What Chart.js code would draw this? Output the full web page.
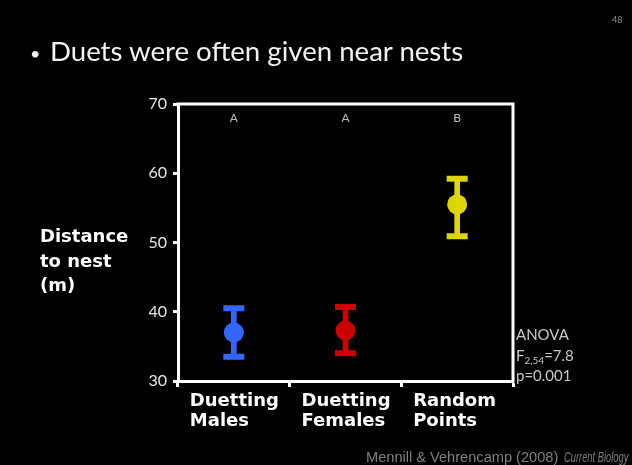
<!DOCTYPE html>
<html>
<head>
<meta charset="utf-8">
<script src="https://cdn.jsdelivr.net/npm/chart.js@4.4.1/dist/chart.umd.min.js"></script>
<style>
  html, body { margin: 0; padding: 0; background: #000; }
  #wrap { position: relative; width: 632px; height: 465px; overflow: hidden; background: #000; }
  #chart { position: absolute; left: 0; top: 0; }
  .txt { position: absolute; white-space: nowrap; }
  #bullet { left: 30px; top: 42px; font: 18px Lato, "Open Sans", sans-serif; color: #f2f2f2; }
  #title { left: 50px; top: 34px; font: 27.6px Lato, "Open Sans", sans-serif; color: #f2f2f2; }
  #ylab { left: 40px; top: 224px; font: bold 18px "DejaVu Sans", sans-serif; line-height: 24.5px; color: #fff; }
  #anova { left: 516px; top: 324px; font: 15px Lato, "Open Sans", sans-serif; line-height: 20.5px; color: #c8c8c8; }
  #anova sub { font-size: 10px; vertical-align: -3px; line-height: 0; }
  #cite { left: 366px; top: 449px; font: 14.6px "Liberation Sans Narrow", "Liberation Sans", sans-serif; color: #7f7f7f; }
  #cite i { display: inline-block; transform: scaleX(0.64); transform-origin: 0 50%; margin-left: 2px; }
  #page { left: 612px; top: 14px; font: 9px Lato, sans-serif; color: #8a8a8a; }
</style>
</head>
<body>
<div id="wrap">
  <canvas id="chart" width="632" height="465"></canvas>
  <div class="txt" id="bullet">•</div>
  <div class="txt" id="title">Duets were often given near nests</div>
  <div class="txt" id="ylab">Distance<br>to nest<br>(m)</div>
  <div class="txt" id="anova">ANOVA<br>F<sub>2,54</sub>=7.8<br>p=0.001</div>
  <div class="txt" id="cite">Mennill &amp; Vehrencamp (2008) <i>Current Biology</i></div>
  <div class="txt" id="page">48</div>
</div>
<script>
// Groups and their distance-to-nest summaries (mean with error-bar limits, metres)
const categories = [['Duetting', 'Males'], ['Duetting', 'Females'], ['Random', 'Points']];
const means = [37.0, 37.3, 55.5];
const upper = [40.5, 40.7, 59.2];
const lower = [33.5, 34.0, 50.9];
const groupLetters = ['A', 'A', 'B'];
const yTicks = [30, 40, 50, 60, 70];
const colors = ['#3366ff', '#cc0000', '#dcd500'];

// Draws the white frame on the top and right sides and the significance letters
const framePlugin = {
  id: 'frame',
  afterDraw(chart) {
    const { ctx, chartArea: a, scales } = chart;
    ctx.save();
    ctx.strokeStyle = '#ffffff';
    ctx.lineWidth = 3;
    ctx.beginPath();
    ctx.moveTo(a.left - 1.5, a.top);
    ctx.lineTo(a.right, a.top);
    ctx.lineTo(a.right, a.bottom + 1.5);
    ctx.stroke();
    ctx.fillStyle = '#bdbdbd';
    ctx.font = '12px Lato, "Open Sans", sans-serif';
    ctx.textAlign = 'center';
    ctx.textBaseline = 'middle';
    groupLetters.forEach((t, i) => {
      ctx.fillText(t, scales.x.getPixelForValue(i), a.top + 14);
    });
    ctx.restore();
  }
};

new Chart(document.getElementById('chart'), {
  data: {
    labels: categories,
    datasets: [
      {
        type: 'line', data: means, showLine: false,
        pointStyle: 'circle', pointRadius: 10, pointHoverRadius: 10,
        pointBackgroundColor: colors, pointBorderColor: colors, pointBorderWidth: 0
      },
      {
        type: 'line', data: upper, showLine: false,
        pointStyle: 'line', pointRadius: 10.5, pointHoverRadius: 10.5,
        pointBorderColor: colors, pointBorderWidth: 6
      },
      {
        type: 'line', data: lower, showLine: false,
        pointStyle: 'line', pointRadius: 10.5, pointHoverRadius: 10.5,
        pointBorderColor: colors, pointBorderWidth: 6
      },
      {
        type: 'bar', data: lower.map((l, i) => [l, upper[i]]),
        backgroundColor: colors, barThickness: 5, borderWidth: 0
      }
    ]
  },
  options: {
    responsive: false,
    animation: false,
    events: [],
    layout: { padding: { left: 0, right: 119, top: 104, bottom: 0 } },
    plugins: { legend: { display: false }, tooltip: { enabled: false } },
    scales: {
      x: {
        type: 'category',
        offset: true,
        grid: {
          offset: true, drawOnChartArea: false, drawTicks: true,
          tickLength: 6, tickWidth: 3, tickColor: '#ffffff'
        },
        border: { display: true, color: '#ffffff', width: 3 },
        ticks: {
          color: '#ffffff', align: 'start', labelOffset: -44,
          maxRotation: 0, minRotation: 0, autoSkip: false, padding: 5,
          font: { family: '"DejaVu Sans", sans-serif', size: 18, weight: 'bold', lineHeight: 1.08 }
        },
        afterFit(s) { s.height = 84; }
      },
      y: {
        min: 30, max: 70,
        afterBuildTicks(s) { s.ticks = yTicks.map(v => ({ value: v })); },
        grid: {
          drawOnChartArea: false, drawTicks: true,
          tickLength: 5, tickWidth: 3, tickColor: '#ffffff'
        },
        border: { display: true, color: '#ffffff', width: 3 },
        ticks: {
          color: '#e6e6e6', padding: 6,
          font: { family: 'Lato, "Open Sans", sans-serif', size: 16 }
        },
        afterFit(s) { s.width = 178; }
      }
    }
  },
  plugins: [framePlugin]
});
</script>
</body>
</html>
